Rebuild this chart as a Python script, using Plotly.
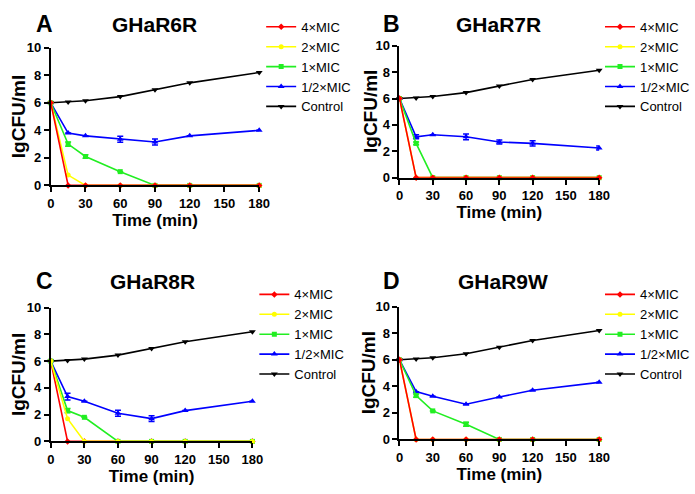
import plotly.graph_objects as go
from plotly.subplots import make_subplots

W, H = 695, 494

time = [0, 15, 30, 60, 90, 120, 180]
series_names = ["4×MIC", "2×MIC", "1×MIC", "1/2×MIC", "Control"]
panel_letters = ["A", "B", "C", "D"]
panel_titles = ["GHaR6R", "GHaR7R", "GHaR8R", "GHaR9W"]
x_title = "Time (min)"
y_title = "lgCFU/ml"

# values (lgCFU/ml) per panel
A_4x = [6, 0, 0, 0, 0, 0, 0]
A_2x = [6, 0.75, 0, 0, 0, 0, 0]
A_1x = [6, 3.0, 2.1, 1.0, 0, 0, 0]
A_half = [6, 3.8, 3.6, 3.35, 3.15, 3.6, 4.0]
A_ctrl = [6.0, 6.05, 6.15, 6.45, 6.95, 7.45, 8.2]
A_1x_err = [0, 0.15, 0.12, 0, 0, 0, 0]
A_half_err = [0, 0, 0, 0.22, 0.22, 0, 0]

B_4x = [6, 0, 0, 0, 0, 0, 0]
B_2x = [6, 0, 0, 0, 0, 0, 0]
B_1x = [6, 2.6, 0, 0, 0, 0, 0]
B_half = [6, 3.1, 3.25, 3.1, 2.7, 2.6, 2.25]
B_ctrl = [6.0, 6.05, 6.15, 6.45, 6.95, 7.45, 8.15]
B_1x_err = [0, 0.1, 0, 0, 0, 0, 0]
B_half_err = [0, 0.15, 0, 0.22, 0.15, 0.2, 0.15]

C_4x = [6, 0, 0, 0, 0, 0, 0]
C_2x = [6, 1.7, 0, 0, 0, 0, 0]
C_1x = [6, 2.3, 1.8, 0, 0, 0, 0]
C_half = [6, 3.35, 3.0, 2.1, 1.7, 2.3, 3.0]
C_ctrl = [6.0, 6.05, 6.15, 6.45, 6.95, 7.45, 8.2]
C_1x_err = [0, 0.15, 0, 0, 0, 0, 0]
C_half_err = [0, 0.25, 0, 0.22, 0.22, 0, 0]

D_4x = [6, 0, 0, 0, 0, 0, 0]
D_2x = [6, 0, 0, 0, 0, 0, 0]
D_1x = [6, 3.3, 2.15, 1.15, 0, 0, 0]
D_half = [6, 3.6, 3.25, 2.65, 3.2, 3.7, 4.3]
D_ctrl = [6.0, 6.05, 6.15, 6.45, 6.95, 7.45, 8.2]
D_1x_err = [0, 0.12, 0, 0.15, 0, 0, 0]
D_half_err = [0, 0, 0, 0, 0, 0, 0]

panels = [
    dict(v=[A_4x, A_2x, A_1x, A_half, A_ctrl], e1=A_1x_err, eh=A_half_err,
         order=[4, 3, 2, 1, 0]),
    dict(v=[B_4x, B_2x, B_1x, B_half, B_ctrl], e1=B_1x_err, eh=B_half_err,
         order=[4, 3, 2, 1, 0]),
    dict(v=[C_4x, C_2x, C_1x, C_half, C_ctrl], e1=C_1x_err, eh=C_half_err,
         order=[4, 3, 0, 2, 1]),
    dict(v=[D_4x, D_2x, D_1x, D_half, D_ctrl], e1=D_1x_err, eh=D_half_err,
         order=[4, 3, 2, 1, 0]),
]

colors = ["#FF0000", "#FFFF00", "#22EE22", "#0000FF", "#000000"]
symbols = ["diamond", "circle", "square", "triangle-up", "triangle-down"]
msizes = [5, 5, 5, 6, 6]

# plot boxes in pixels: (x0, x1, y0_top, y1_bottom)
boxes = [(48, 262, 42, 184), (406, 611, 40, 176), (48, 255, 310, 448), (406, 611, 309, 446)]
legend_pos = [(264, 5), (612, 5), (257, 281), (612, 281)]
title_pos = [((42, 18), (155, 18)), ((398, 18), (508, 18)), ((42, 283), (152, 283)), ((398, 283), (512, 283))]
ytitle_x = [15, 376, 15, 374]

fig = make_subplots(rows=2, cols=2)
FONT = "Arial, 'Liberation Sans', sans-serif"

for p, panel in enumerate(panels):
    r, c = p // 2 + 1, p % 2 + 1
    leg = "legend" if p == 0 else f"legend{p+1}"
    for k in panel["order"]:
        err = None
        if k == 2:
            err = dict(type="data", array=panel["e1"], color=colors[k], thickness=1.5, width=3)
        elif k == 3:
            err = dict(type="data", array=panel["eh"], color=colors[k], thickness=1.5, width=3)
        fig.add_trace(go.Scatter(
            x=time, y=panel["v"][k], name=series_names[k], mode="lines+markers",
            line=dict(color=colors[k], width=1.6),
            marker=dict(color=colors[k], symbol=symbols[k], size=msizes[k]),
            error_y=err, cliponaxis=False, legend=leg, legendrank=k + 1,
        ), row=r, col=c)

layout = dict(
    width=W, height=H, margin=dict(l=0, r=0, t=0, b=0),
    paper_bgcolor="white", plot_bgcolor="white",
    font=dict(family=FONT, color="black"),
    annotations=[],
)

axnames = ["", "2", "3", "4"]
for p, (x0, x1, yt, yb) in enumerate(boxes):
    ax = axnames[p]
    layout["xaxis" + ax] = dict(
        domain=[x0 / W, x1 / W], range=[0, 180], tickvals=[0, 30, 60, 90, 120, 150, 180],
        showline=True, linecolor="black", linewidth=2, ticks="outside", ticklen=5,
        tickwidth=2, tickcolor="black", showgrid=False, zeroline=False,
        tickfont=dict(size=13, family=FONT, weight="bold"),
        title=dict(text="<b>" + x_title + "</b>", font=dict(size=17, family=FONT), standoff=2),
    )
    layout["yaxis" + ax] = dict(
        domain=[1 - yb / H, 1 - yt / H], range=[0, 10], tickvals=[0, 2, 4, 6, 8, 10],
        showline=True, linecolor="black", linewidth=2, ticks="outside", ticklen=5,
        tickwidth=2, tickcolor="black", showgrid=False, zeroline=False,
        tickfont=dict(size=13, family=FONT, weight="bold"),
    )
    layout["annotations"].append(dict(
        x=ytitle_x[p] / W, y=1 - ((yt + yb) / 2) / H, xref="paper", yref="paper",
        text="<b>" + y_title + "</b>", textangle=-90, showarrow=False,
        font=dict(size=19, family=FONT), xanchor="center", yanchor="middle"))
    lx, ly = legend_pos[p]
    leg = "legend" if p == 0 else f"legend{p+1}"
    layout[leg] = dict(
        x=lx / W, y=1 - ly / H, xanchor="left", yanchor="top",
        font=dict(size=13, family=FONT), itemwidth=30, tracegroupgap=0,
        bgcolor="rgba(0,0,0,0)",
    )
    (lxp, lyp), (txp, typ) = title_pos[p]
    layout["annotations"].append(dict(
        x=lxp / W, y=1 - lyp / H, xref="paper", yref="paper", text="<b>" + panel_letters[p] + "</b>",
        showarrow=False, font=dict(size=23, family=FONT), xanchor="center", yanchor="middle"))
    layout["annotations"].append(dict(
        x=txp / W, y=1 - typ / H, xref="paper", yref="paper", text="<b>" + panel_titles[p] + "</b>",
        showarrow=False, font=dict(size=21, family=FONT), xanchor="center", yanchor="middle"))

fig.update_layout(**layout)
fig.write_html("out.html", config={"displayModeBar": False},
               post_script="document.body.style.margin='0';")
